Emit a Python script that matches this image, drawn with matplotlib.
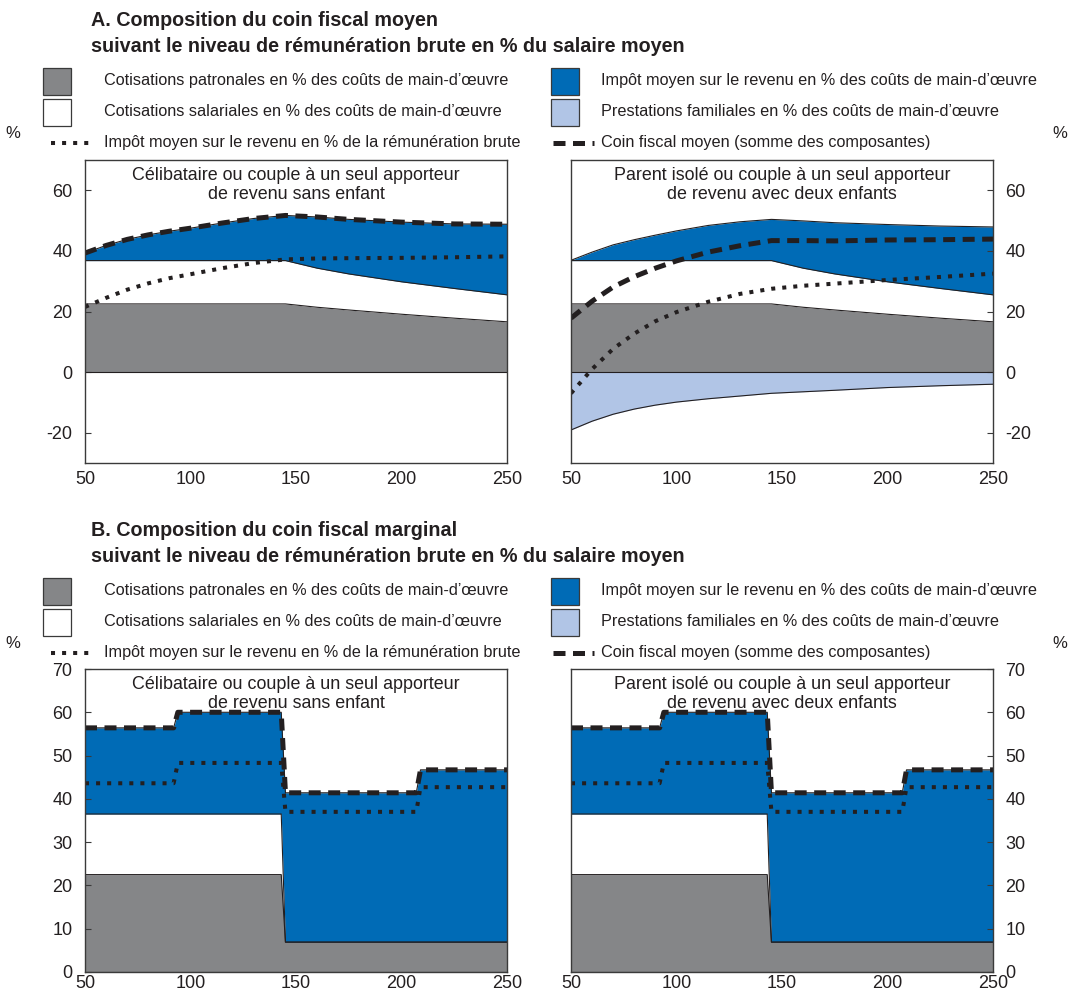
import matplotlib
matplotlib.use("Agg")
import matplotlib.pyplot as plt
from matplotlib.patches import Rectangle
from matplotlib.lines import Line2D
import numpy as np

plt.rcParams['font.family'] = ['Liberation Sans', 'DejaVu Sans']
plt.rcParams['axes.unicode_minus'] = False

# ---------------- Data ----------------
# Panel A: average tax wedge, by gross earnings (% of average wage)
earn_avg = [50, 60, 70, 80, 90, 100, 115, 130, 145, 160, 175, 200, 225, 250]
employer_avg = [22.5, 22.5, 22.5, 22.5, 22.5, 22.5, 22.5, 22.5, 22.5, 21.4, 20.5, 19.1, 17.8, 16.6]
employee_avg = [14.3, 14.3, 14.3, 14.3, 14.3, 14.3, 14.3, 14.3, 14.3, 12.9, 11.9, 10.7, 9.8, 8.9]
# single, no child
pit_single_avg = [2.5, 5.0, 7.0, 8.5, 9.7, 10.7, 12.4, 13.9, 14.9, 16.9, 18.0, 19.7, 21.3, 23.3]
pit_gross_single_avg = [21.5, 24.5, 27.2, 29.3, 31.0, 32.3, 34.3, 36.0, 37.2, 37.5, 37.6, 37.7, 37.9, 38.2]
# one earner, two children
pit_family_avg = [0.1, 2.8, 5.2, 6.9, 8.4, 9.8, 11.6, 12.8, 13.6, 15.6, 16.9, 18.9, 20.6, 22.4]
benefits_family_avg = [-19.1, -16.2, -13.9, -12.2, -10.9, -9.9, -8.8, -7.9, -7.0, -6.5, -6.0, -5.1, -4.5, -4.0]
pit_gross_family_avg = [-7.0, 1.0, 7.7, 12.7, 16.8, 19.8, 23.2, 25.8, 27.5, 28.5, 29.2, 30.4, 31.4, 32.5]

# Panel B: marginal tax wedge
earn_marg = [50, 92, 94, 143, 145, 207, 209, 250]
employer_marg = [22.5, 22.5, 22.5, 22.5, 6.9, 6.9, 6.9, 6.9]
employee_marg = [14.0, 14.0, 14.0, 14.0, 0.0, 0.0, 0.0, 0.0]
pit_marg = [19.9, 19.9, 23.5, 23.5, 34.5, 34.5, 39.8, 39.8]
benefits_marg = [0, 0, 0, 0, 0, 0, 0, 0]
pit_gross_marg = [43.6, 43.6, 48.3, 48.3, 37.0, 37.0, 42.7, 42.7]

xticks = [50, 100, 150, 200, 250]
yticks_avg = [-20, 0, 20, 40, 60]
yticks_marg = [0, 10, 20, 30, 40, 50, 60, 70]

title_a = ["A. Composition du coin fiscal moyen",
           "suivant le niveau de rémunération brute en % du salaire moyen"]
title_b = ["B. Composition du coin fiscal marginal",
           "suivant le niveau de rémunération brute en % du salaire moyen"]
panel_single = "Célibataire ou couple à un seul apporteur\nde revenu sans enfant"
panel_family = "Parent isolé ou couple à un seul apporteur\nde revenu avec deux enfants"
legend_labels = [
    "Cotisations patronales en % des coûts de main-d’œuvre",
    "Cotisations salariales en % des coûts de main-d’œuvre",
    "Impôt moyen sur le revenu en % de la rémunération brute",
    "Impôt moyen sur le revenu en % des coûts de main-d’œuvre",
    "Prestations familiales en % des coûts de main-d’œuvre",
    "Coin fiscal moyen (somme des composantes)",
]

# ---------------- Style ----------------
GREY = "#858688"
BLUE = "#006bb6"
LIGHT = "#b1c5e6"
INK = "#231f20"
SPINE = "#3a3a3a"
DASH = dict(color=INK, lw=3.6, linestyle=(0, (2.4, 1.5)), solid_capstyle="butt", dash_capstyle="butt")
DOT = dict(color=INK, lw=2.9, linestyle=(0, (1.0, 1.75)), dash_capstyle="butt")

W, H = 1068, 994
fig = plt.figure(figsize=(W / 100, H / 100), dpi=100)


def ax_rect(x0, y0, x1, y1):
    return [x0 / W, 1 - y1 / H, (x1 - x0) / W, (y1 - y0) / H]


def draw_panel(ax, x, emp, ee, pit, ben, gross, ylim, yticks, side, label, xpad):
    x = np.asarray(x, float)
    emp = np.asarray(emp, float)
    ee = np.asarray(ee, float)
    pit = np.asarray(pit, float)
    ben = np.asarray(ben, float)
    lvl1 = emp
    lvl2 = emp + ee
    lvl3 = emp + ee + pit
    total = lvl3 + ben
    if np.any(ben != 0):
        ax.fill_between(x, ben, 0, color=LIGHT, lw=0)
        ax.plot(x, ben, color=INK, lw=0.8)
    ax.fill_between(x, 0, lvl1, color=GREY, lw=0)
    ax.fill_between(x, lvl1, lvl2, color="white", lw=0)
    ax.fill_between(x, lvl2, lvl3, color=BLUE, lw=0)
    ax.plot(x, np.zeros_like(x), color=INK, lw=0.8)
    ax.plot(x, lvl1, color=INK, lw=0.8)
    ax.plot(x, lvl2, color=INK, lw=0.8)
    ax.plot(x, lvl3, color=INK, lw=0.8)
    ax.plot(x, gross, **DOT)
    ax.plot(x, total, **DASH)
    ax.set_xlim(50, 250)
    ax.set_ylim(*ylim)
    ax.set_xticks(xticks)
    ax.set_yticks(yticks)
    ax.tick_params(axis="x", length=0, pad=xpad, labelsize=13, colors=INK)
    ax.tick_params(axis="y", direction="in", length=4, width=0.8, pad=9,
                   labelsize=13, colors=INK, color=SPINE)
    if side == "left":
        ax.yaxis.tick_left()
    else:
        ax.yaxis.tick_right()
    for s in ax.spines.values():
        s.set_color(SPINE)
        s.set_linewidth(1.0)
    ax.text(0.5, 0.978, label, transform=ax.transAxes, ha="center", va="top",
            fontsize=12.9, color=INK, linespacing=1.18)


axA1 = fig.add_axes(ax_rect(85, 160, 507, 463))
axA2 = fig.add_axes(ax_rect(571, 160, 993, 463))
axB1 = fig.add_axes(ax_rect(85, 669, 507, 972))
axB2 = fig.add_axes(ax_rect(571, 669, 993, 972))

zeros_avg = [0] * len(earn_avg)
draw_panel(axA1, earn_avg, employer_avg, employee_avg, pit_single_avg, zeros_avg,
           pit_gross_single_avg, (-30, 70), yticks_avg, "left", panel_single, 6)
draw_panel(axA2, earn_avg, employer_avg, employee_avg, pit_family_avg, benefits_family_avg,
           pit_gross_family_avg, (-30, 70), yticks_avg, "right", panel_family, 6)
draw_panel(axB1, earn_marg, employer_marg, employee_marg, pit_marg, benefits_marg,
           pit_gross_marg, (0, 70), yticks_marg, "left", panel_single, 2.5)
draw_panel(axB2, earn_marg, employer_marg, employee_marg, pit_marg, benefits_marg,
           pit_gross_marg, (0, 70), yticks_marg, "right", panel_family, 2.5)

# ---------------- Titles and legends (pixel layout overlay) ----------------
lay = fig.add_axes([0, 0, 1, 1], zorder=-1)
lay.set_xlim(0, W)
lay.set_ylim(H, 0)
lay.axis("off")


def header(top, titles):
    lay.text(91, top + 20, titles[0], fontsize=14.2, fontweight="bold", color=INK, va="center")
    lay.text(91, top + 46, titles[1], fontsize=14.2, fontweight="bold", color=INK, va="center")
    rows = [top + 81, top + 112, top + 143]
    boxes = [(43, rows[0], GREY), (43, rows[1], "white"), (551, rows[0], BLUE), (551, rows[1], LIGHT)]
    for bx, cy, col in boxes:
        lay.add_patch(Rectangle((bx, cy - 13.5), 28, 27, facecolor=col, edgecolor=SPINE, lw=0.9))
    fs = 11.7
    lay.text(104, rows[0], legend_labels[0], fontsize=fs, color=INK, va="center")
    lay.text(104, rows[1], legend_labels[1], fontsize=fs, color=INK, va="center")
    lay.text(104, rows[2], legend_labels[2], fontsize=fs, color=INK, va="center")
    lay.text(601, rows[0], legend_labels[3], fontsize=fs, color=INK, va="center")
    lay.text(601, rows[1], legend_labels[4], fontsize=fs, color=INK, va="center")
    lay.text(601, rows[2], legend_labels[5], fontsize=fs, color=INK, va="center")
    lay.add_line(Line2D([51, 95], [rows[2], rows[2]], **DOT))
    lay.add_line(Line2D([553, 594], [rows[2], rows[2]], **DASH))
    lay.text(13, rows[2] - 10, "%", fontsize=12, color=INK, ha="center", va="center")
    lay.text(1060, rows[2] - 10, "%", fontsize=12, color=INK, ha="center", va="center")


header(0, title_a)
header(510, title_b)

fig.savefig("out.png", dpi=100)
